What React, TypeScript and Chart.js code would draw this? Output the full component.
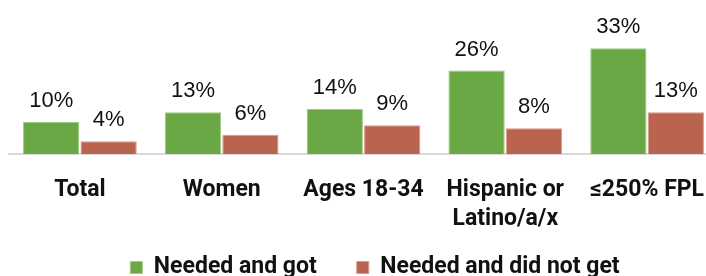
import React, { useEffect, useRef } from "react";
import { Chart, registerables } from "chart.js";

Chart.register(...registerables);

const categories: (string | string[])[] = [
  "Total",
  "Women",
  "Ages 18-34",
  ["Hispanic or", "Latino/a/x"],
  "≤250% FPL",
];
const neededAndGot = [10, 13, 14, 26, 33];
const neededAndDidNotGet = [4, 6, 9, 8, 13];
const seriesNames = ["Needed and got", "Needed and did not get"];

const GREEN = "#6AA745";
const RED = "#BA644F";
const LABEL_FONT = 'Roboto, "DejaVu Sans Condensed", sans-serif';
const CANVAS_W = 750;
const CANVAS_H = 329;

const valueLabels = {
  id: "valueLabels",
  afterDatasetsDraw(chart: any) {
    const ctx = chart.ctx;
    ctx.save();
    ctx.font = '22px "Liberation Sans", Arial, sans-serif';
    ctx.fillStyle = "#111111";
    ctx.textAlign = "center";
    ctx.textBaseline = "alphabetic";
    chart.data.datasets.forEach((ds: any, di: number) => {
      const meta = chart.getDatasetMeta(di);
      meta.data.forEach((bar: any, i: number) => {
        ctx.fillText(`${ds.data[i]}%`, bar.x, bar.y - 15);
      });
    });
    ctx.restore();
  },
};

// pull the legend up closer to the axis labels
const legendShift = {
  id: "legendShift",
  afterLayout(chart: any) {
    const lg = chart.legend;
    if (lg) {
      lg.top -= 40;
      lg.bottom -= 40;
    }
  },
};

export default function App() {
  const ref = useRef<HTMLCanvasElement>(null);
  useEffect(() => {
    if (!ref.current) return;
    const chart = new Chart(ref.current, {
      type: "bar",
      data: {
        labels: categories,
        datasets: [
          {
            label: seriesNames[0],
            data: neededAndGot,
            backgroundColor: GREEN,
            borderColor: "#9CCB85",
            borderWidth: 1,
            categoryPercentage: 0.81,
            barPercentage: 0.98,
          },
          {
            label: seriesNames[1],
            data: neededAndDidNotGet,
            backgroundColor: RED,
            borderColor: "#D89A8A",
            borderWidth: 1,
            categoryPercentage: 0.81,
            barPercentage: 0.98,
          },
        ],
      },
      options: {
        responsive: false,
        animation: false,
        layout: { padding: 0 },
        plugins: {
          tooltip: { enabled: false },
          legend: {
            position: "bottom",
            labels: {
              boxWidth: 12,
              boxHeight: 12,
              padding: 40,
              color: "#111111",
              font: { family: LABEL_FONT, size: 23, weight: "bold" },
            },
          },
        },
        scales: {
          x: {
            grid: { display: false, drawTicks: false },
            border: { display: true, color: "#D9D9D9", width: 2 },
            ticks: {
              color: "#111111",
              padding: 22,
              maxRotation: 0,
              autoSkip: false,
              font: { family: LABEL_FONT, size: 23, weight: "bold", lineHeight: 1.26 },
            },
          },
          y: {
            display: true,
            min: 0,
            max: 48,
            grid: { display: false, drawTicks: false },
            border: { display: false },
            ticks: { display: false },
            afterFit: (scale: any) => {
              scale.width = 9;
            },
          },
          y2: {
            display: true,
            position: "right",
            min: 0,
            max: 48,
            grid: { display: false, drawTicks: false },
            border: { display: false },
            ticks: { display: false },
            afterFit: (scale: any) => {
              scale.width = 32;
            },
          },
        },
      },
      plugins: [valueLabels, legendShift],
    });
    return () => chart.destroy();
  }, []);

  return (
    <div
      style={{
        position: "fixed",
        left: 0,
        top: 0,
        width: CANVAS_W,
        height: CANVAS_H,
        background: "#fff",
      }}
    >
      <canvas
        ref={ref}
        width={CANVAS_W}
        height={CANVAS_H}
        style={{ width: CANVAS_W, height: CANVAS_H }}
      />
    </div>
  );
}
